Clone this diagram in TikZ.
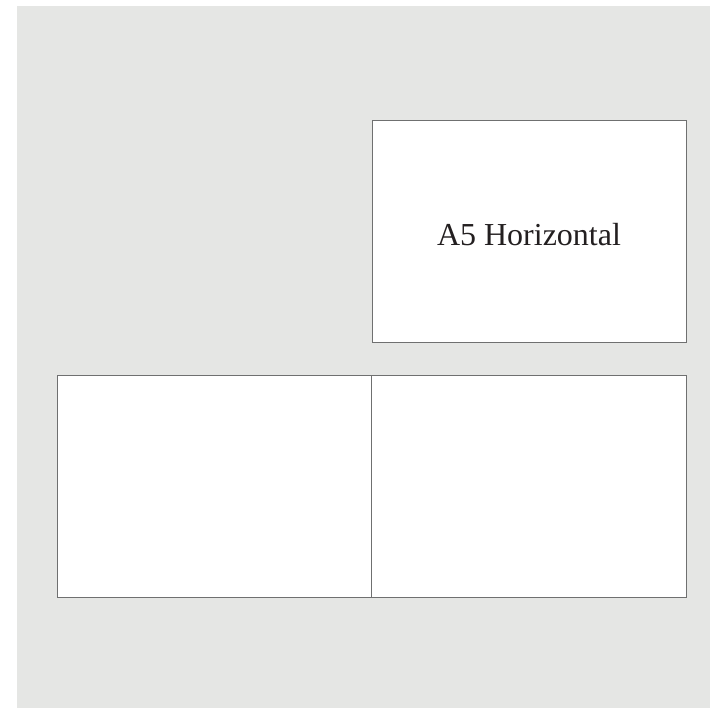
\documentclass[tikz,border=0pt]{standalone}
\usepackage{fontspec}
\setmainfont{Liberation Serif}
\definecolor{bggray}{HTML}{E5E6E4}
\definecolor{linegray}{HTML}{6F7070}
\definecolor{txt}{HTML}{231F20}
\begin{document}
\begin{tikzpicture}[x=1pt,y=-1pt,
  page/.style={draw=linegray,line width=1pt,fill=white,minimum width=314pt,minimum height=222pt,inner sep=0pt,outer sep=0pt}]
\useasboundingbox (0,0) rectangle (710,708);
\fill[bggray] (17,6) rectangle (710,708);
\node[page,anchor=north west] (top) at (372,120.5) {};
\node[font=\fontsize{32}{38}\selectfont,text=txt,anchor=base] (lbl) at (529,246) {A5 Horizontal};
\node[page,anchor=north west] (bl) at (57.5,375.5) {};
\node[page,anchor=north west,minimum width=314.5pt] (br) at (371.5,375.5) {};
\end{tikzpicture}
\end{document}
